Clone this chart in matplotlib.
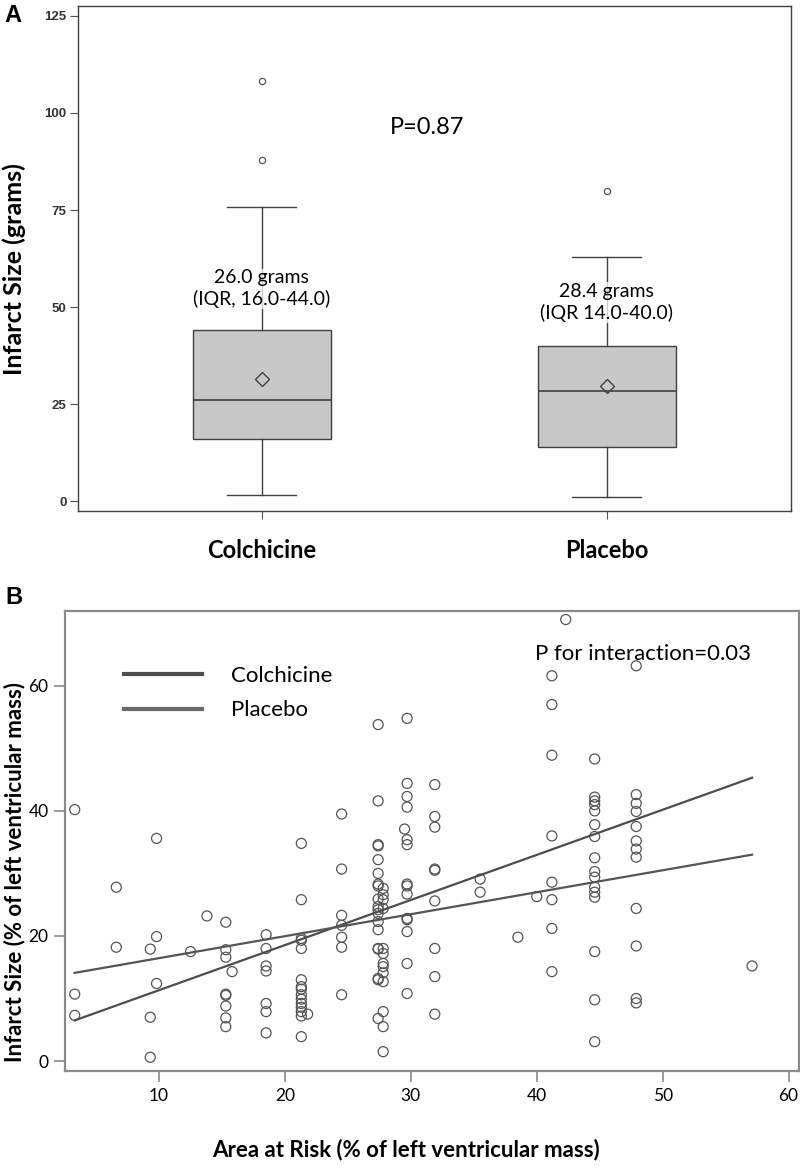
import matplotlib
matplotlib.use("Agg")
import matplotlib.pyplot as plt
from matplotlib.lines import Line2D

plt.rcParams["font.family"] = ["Lato", "DejaVu Sans"]

# panel A - infarct size in grams, box summary per group
groups = ["Colchicine", "Placebo"]
medians = [26.0, 28.4]
q1 = [16.0, 14.0]
q3 = [44.0, 40.0]
whisker_lo = [1.5, 1.0]
whisker_hi = [75.9, 63.0]
means = [31.5, 29.7]
outliers = [[87.9, 108.1], [80.0]]
summary_text = ["26.0 grams\n(IQR, 16.0-44.0)", "28.4 grams\n(IQR 14.0-40.0)"]
summary_y = [54.7, 51.2]
p_value_a = "P=0.87"
yticks_a = [0, 25, 50, 75, 100, 125]

# panel B - infarct size vs area at risk (% of LV mass)
area_at_risk = [
    3.3, 3.3, 3.3,
    6.6, 6.6,
    9.3, 9.3, 9.3,
    9.8, 9.8, 9.8,
    12.5, 13.8,
    15.3, 15.3, 15.3, 15.3, 15.3, 15.3, 15.3, 15.3,
    15.8,
    18.5, 18.5, 18.5, 18.5, 18.5, 18.5, 18.5,
    21.3, 21.3, 21.3, 21.3, 21.3, 21.3, 21.3, 21.3, 21.3, 21.3, 21.3, 21.3, 21.3, 21.3, 21.3,
    21.8,
    24.5, 24.5, 24.5, 24.5, 24.5, 24.5, 24.5,
    27.4, 27.4, 27.4, 27.4, 27.4, 27.4, 27.4, 27.4, 27.4, 27.4, 27.4, 27.4, 27.4, 27.4, 27.4, 27.4, 27.4, 27.4, 27.4,
    27.8, 27.8, 27.8, 27.8, 27.8, 27.8, 27.8, 27.8, 27.8, 27.8, 27.8, 27.8, 27.8,
    29.5,
    29.7, 29.7, 29.7, 29.7, 29.7, 29.7, 29.7, 29.7, 29.7, 29.7, 29.7, 29.7, 29.7, 29.7,
    31.9, 31.9, 31.9, 31.9, 31.9, 31.9, 31.9, 31.9, 31.9,
    35.5, 35.5,
    38.5, 40.0,
    41.2, 41.2, 41.2, 41.2, 41.2, 41.2, 41.2, 41.2,
    42.3,
    44.6, 44.6, 44.6, 44.6, 44.6, 44.6, 44.6, 44.6, 44.6, 44.6, 44.6, 44.6, 44.6, 44.6, 44.6, 44.6,
    47.9, 47.9, 47.9, 47.9, 47.9, 47.9, 47.9, 47.9, 47.9, 47.9, 47.9, 47.9,
    57.1,
]
infarct_pct = [
    40.2, 10.7, 7.3,
    27.8, 18.2,
    17.9, 7.0, 0.6,
    35.6, 19.9, 12.4,
    17.5, 23.2,
    22.2, 17.8, 16.6, 10.7, 10.5, 8.8, 6.9, 5.5,
    14.3,
    20.2, 18.0, 15.2, 14.4, 9.2, 7.9, 4.5,
    34.8, 25.8, 19.6, 19.3, 18.0, 13.0, 11.9, 11.5, 10.6, 9.9, 9.2, 8.6, 7.9, 7.2, 3.9,
    7.5,
    39.5, 30.7, 23.3, 21.7, 19.8, 18.2, 10.6,
    53.8, 41.6, 34.6, 34.4, 32.2, 30.0, 28.3, 28.0, 25.9, 24.7, 24.2, 23.6, 22.3, 21.0, 18.0, 17.9, 13.2, 13.0, 6.8,
    27.6, 26.6, 25.8, 24.4, 18.0, 17.2, 15.6, 15.1, 14.1, 12.7, 7.9, 5.5, 1.5,
    37.1,
    54.8, 44.4, 42.3, 40.6, 35.4, 34.6, 28.3, 28.0, 26.7, 22.8, 22.6, 20.7, 15.6, 10.8,
    44.2, 39.1, 37.4, 30.7, 30.5, 25.6, 18.0, 13.5, 7.5,
    29.1, 27.0,
    19.8, 26.3,
    61.6, 57.0, 48.9, 36.0, 28.6, 25.8, 21.2, 14.3,
    70.6,
    48.3, 42.2, 41.6, 41.0, 40.0, 37.8, 35.9, 32.5, 30.3, 29.4, 27.8, 27.0, 26.2, 17.5, 9.8, 3.1,
    63.2, 42.6, 41.2, 39.9, 37.5, 35.2, 33.9, 32.6, 24.4, 18.4, 10.0, 9.3,
    15.2,
]
fit_x = [3.3, 57.1]
fit_colchicine = [6.5, 45.3]
fit_placebo = [14.1, 33.0]
p_value_b = "P for interaction=0.03"
xticks_b = [10, 20, 30, 40, 50, 60]
yticks_b = [0, 20, 40, 60]

dark = "#404040"
spine_b = "#8a8a8a"

fig = plt.figure(figsize=(8, 11.68), dpi=100)

# ---- panel A
ax_a = fig.add_axes([0.0971, 0.5625, 0.8913, 0.4326])
stats = [
    dict(med=medians[i], q1=q1[i], q3=q3[i], whislo=whisker_lo[i], whishi=whisker_hi[i],
         fliers=outliers[i], mean=means[i], label=groups[i])
    for i in range(len(groups))
]
ax_a.bxp(
    stats, positions=[1, 2], widths=0.4, capwidths=0.2, showmeans=True, patch_artist=True,
    boxprops=dict(facecolor="#c8c8c8", edgecolor=dark, linewidth=1),
    medianprops=dict(color=dark, linewidth=1.2),
    whiskerprops=dict(color=dark, linewidth=1),
    capprops=dict(color=dark, linewidth=1),
    flierprops=dict(marker="o", markersize=4.5, markerfacecolor="none",
                    markeredgecolor="#555555", markeredgewidth=0.9),
    meanprops=dict(marker="D", markersize=7, markerfacecolor="none",
                   markeredgecolor=dark, markeredgewidth=1),
)
for i, txt in enumerate(summary_text):
    ax_a.text(i + 1, summary_y[i], txt, ha="center", va="center", fontsize=14,
              linespacing=1.25, zorder=5,
              bbox=dict(facecolor="white", alpha=0.75, edgecolor="none", pad=0.5))
ax_a.text(1.372, 96.3, p_value_a, ha="left", va="center", fontsize=17)

ax_a.set_xlim(0.467, 2.533)
ax_a.set_ylim(-2.5, 127.6)
ax_a.set_yticks(yticks_a)
ax_a.set_yticklabels([str(v) for v in yticks_a], fontsize=9.5, fontweight="bold",
                     color="#333333", family=["Liberation Sans", "DejaVu Sans"])
ax_a.set_xticks([1, 2])
ax_a.set_xticklabels(groups, fontsize=17, fontweight="bold")
ax_a.tick_params(axis="y", length=6, width=0.8, color="#555555", pad=2)
ax_a.tick_params(axis="x", length=6, width=0.8, color="#555555", pad=14)
for s in ax_a.spines.values():
    s.set_color(dark)
    s.set_linewidth(1)
ax_a.set_ylabel("Infarct Size (grams)", fontsize=18, fontweight="bold")
ax_a.yaxis.set_label_coords(-0.073, 0.479)

# ---- panel B
ax_b = fig.add_axes([0.0816, 0.0830, 0.9167, 0.3941])
ax_b.scatter(area_at_risk, infarct_pct, s=52, facecolors="none", edgecolors="#555555",
             linewidths=0.9, zorder=2)
ax_b.plot(fit_x, fit_colchicine, color="#4d4d4d", lw=1.6, zorder=3)
ax_b.plot(fit_x, fit_placebo, color="#555555", lw=1.6, zorder=3)

handles = [Line2D([], [], color="#4d4d4d", lw=3), Line2D([], [], color="#6a6a6a", lw=3)]
ax_b.legend(handles, groups, loc="upper left", bbox_to_anchor=(0.080, 0.880),
            frameon=False, fontsize=16, handlelength=3.5, handletextpad=1.3,
            labelspacing=0.65, borderpad=0, borderaxespad=0)
ax_b.text(0.640, 0.905, p_value_b, transform=ax_b.transAxes, ha="left", va="center",
          fontsize=16)

ax_b.set_xlim(2.55, 60.8)
ax_b.set_ylim(-1.6, 72.0)
ax_b.set_xticks(xticks_b)
ax_b.set_yticks(yticks_b)
ax_b.tick_params(labelsize=12.5, length=8, width=1.2, color=spine_b, pad=4)
for s in ax_b.spines.values():
    s.set_color(spine_b)
    s.set_linewidth(1.6)
ax_b.set_xlabel("Area at Risk (% of left ventricular mass)", fontsize=16, fontweight="bold")
ax_b.xaxis.set_label_coords(0.464, -0.147)
ax_b.set_ylabel("Infarct Size (% of left ventricular mass)", fontsize=16, fontweight="bold")
ax_b.yaxis.set_label_coords(-0.054, 0.432)

fig.text(13 / 800, 1 - 15 / 1168, "A", fontsize=17, fontweight="bold", ha="center", va="center",
         family=["Liberation Sans", "DejaVu Sans"])
fig.text(14 / 800, 1 - 597 / 1168, "B", fontsize=17, fontweight="bold", ha="center", va="center",
         family=["Liberation Sans", "DejaVu Sans"])

fig.savefig("out.png", dpi=100)
